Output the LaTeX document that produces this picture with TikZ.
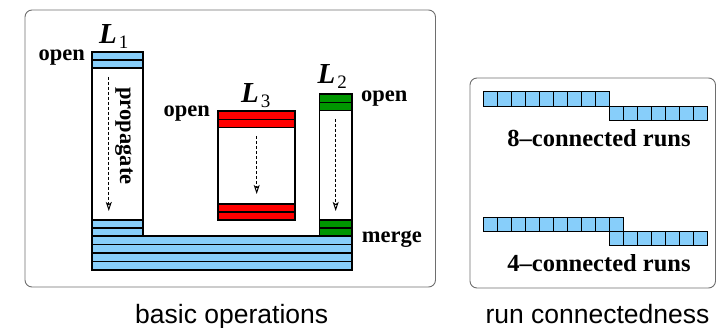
\documentclass[tikz,border=0pt]{standalone}
\usepackage{fontspec}
\setmainfont{Liberation Serif}
\newfontfamily\capfont{Liberation Sans}
\usetikzlibrary{arrows.meta}
\definecolor{runblue}{RGB}{135,206,250}
\definecolor{openred}{RGB}{255,0,0}
\definecolor{opengreen}{RGB}{0,150,0}
\definecolor{framegray}{RGB}{110,110,110}
\newcommand{\listlabel}[1]{{\fontsize{29}{30}\selectfont\bfseries\itshape L}\kern2pt\raisebox{-5pt}{\fontsize{19}{20}\selectfont #1}}
\begin{document}
\begin{tikzpicture}[x=1pt,y=-1pt,
  panel/.style={draw=framegray, line width=0.9pt, rounded corners=7pt},
  bar/.style={draw=black, line width=1.4pt},
  cell/.style={draw=black, line width=0.9pt, fill=runblue},
  lbl/.style={font=\fontsize{22.5}{24}\selectfont\bfseries, inner sep=0pt},
  runlbl/.style={font=\fontsize{24.5}{26}\selectfont\bfseries, inner sep=0pt, anchor=base},
  listname/.style={inner sep=0pt, anchor=base west},
  caption/.style={font=\capfont\fontsize{26.5}{28}\selectfont, inner sep=0pt, anchor=base},
  flow/.style={line width=1pt, dash pattern=on 3pt off 2pt,
    -{Stealth[open, length=9pt, width=6pt, inset=2pt]}}]
\useasboundingbox (0,0) rectangle (717,328);

% frames of the two panels
\draw[panel] (25,10) rectangle (435.5,287);
\draw[panel] (470,78) rectangle (715.5,288);

% list L1: white column with two blue rows on top and two at the bottom
\draw[bar, fill=white] (92,52) rectangle (143,236);
\foreach \ya/\yb in {52/60, 60/68, 220/228, 228/236}
  \draw[bar, fill=runblue] (92,\ya) rectangle (143,\yb);

% list L2: green rows
\draw[bar, fill=white] (319.5,94) rectangle (352,236);
\foreach \ya/\yb in {94/102.3, 102.3/110.7, 220/228, 228/236}
  \draw[bar, fill=opengreen] (319.5,\ya) rectangle (352,\yb);

% list L3: red rows
\draw[bar, fill=white] (218,111) rectangle (295,220);
\foreach \ya/\yb in {111/119.3, 119.3/127.7, 204/212, 212/220}
  \draw[bar, fill=openred] (218,\ya) rectangle (295,\yb);

% merged base
\foreach \ya/\yb in {236/244.5, 244.5/253, 253/261.5, 261.5/270}
  \draw[bar, fill=runblue] (92,\ya) rectangle (352,\yb);

% dashed flow arrows
\coordinate (f1a) at (108.8,77);  \coordinate (f1b) at (108.8,211);
\coordinate (f3a) at (256.7,136); \coordinate (f3b) at (256.7,194);
\coordinate (f2a) at (335.7,119); \coordinate (f2b) at (335.7,211);
\draw[flow] (f1a) -- (f1b);
\draw[flow] (f3a) -- (f3b);
\draw[flow] (f2a) -- (f2b);

% labels
\node[lbl, anchor=base west] (open1) at (38.5,61) {open};
\node[listname] (l1) at (99,43.3) {\listlabel{1}};
\node[lbl, anchor=base west] (open3) at (163.3,116.7) {open};
\node[listname] (l3) at (241,102.3) {\listlabel{3}};
\node[listname] (l2) at (317.5,83.3) {\listlabel{2}};
\node[lbl, anchor=base west] (open2) at (361,101.7) {open};
\node[lbl, anchor=base west] (merge) at (361.7,243) {merge};
\node[lbl, rotate=-90] (prop) at (124,136) {propagate};

% 8-connected runs
\foreach \i in {0,...,8}
  \draw[cell] (483.5+14*\i,91.7) rectangle ++(14,15);
\foreach \i in {0,...,6}
  \draw[cell] (609.5+14*\i,106.7) rectangle ++(14,14);
\node[runlbl] (eight) at (599,146.7) {8–connected runs};

% 4-connected runs
\foreach \i in {0,...,9}
  \draw[cell] (483.5+14*\i,217.7) rectangle ++(14,14);
\foreach \i in {0,...,6}
  \draw[cell] (609.5+14*\i,231.7) rectangle ++(14,14);
\node[runlbl] (four) at (599,271.7) {4–connected runs};

% captions
\node[caption] (capa) at (231.7,323.3) {basic operations};
\node[caption] (capb) at (597.5,323.3) {run connectedness};
\end{tikzpicture}
\end{document}
